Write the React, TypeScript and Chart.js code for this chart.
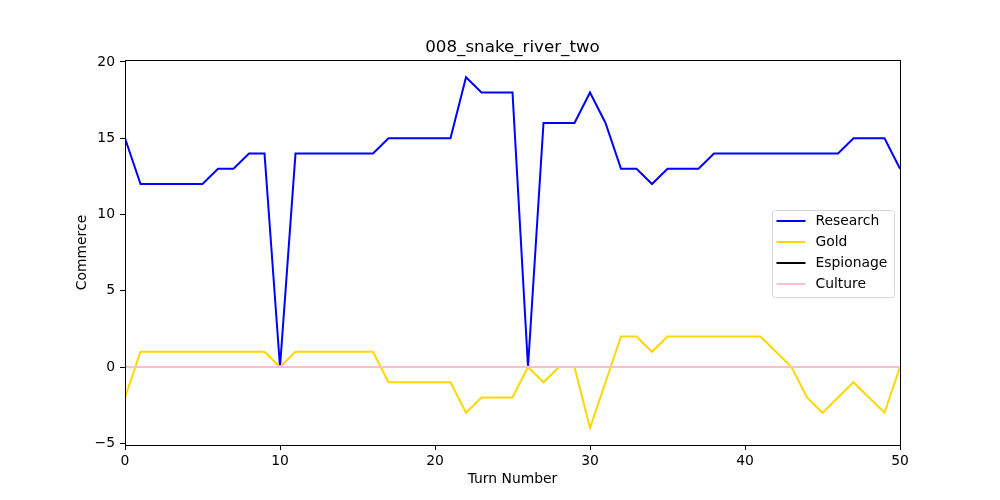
import React, { useEffect, useRef } from "react";
import { Chart, registerables } from "chart.js";

Chart.register(...registerables);

const chartTitle = "008_snake_river_two";
const xLabel = "Turn Number";
const yLabel = "Commerce";

const turns = [
  0, 1, 2, 3, 4, 5, 6, 7, 8, 9, 10, 11, 12, 13, 14, 15, 16, 17, 18, 19, 20,
  21, 22, 23, 24, 25, 26, 27, 28, 29, 30, 31, 32, 33, 34, 35, 36, 37, 38, 39,
  40, 41, 42, 43, 44, 45, 46, 47, 48, 49, 50,
];

const research = [
  15, 12, 12, 12, 12, 12, 13, 13, 14, 14, 0, 14, 14, 14, 14, 14, 14, 15, 15, 15,
  15, 15, 19, 18, 18, 18, 0, 16, 16, 16, 18, 16, 13, 13, 12, 13, 13, 13, 14, 14,
  14, 14, 14, 14, 14, 14, 14, 15, 15, 15, 13,
];

const gold = [
  -2, 1, 1, 1, 1, 1, 1, 1, 1, 1, 0, 1, 1, 1, 1, 1, 1, -1, -1, -1, -1, -1, -3,
  -2, -2, -2, 0, -1, 0, 0, -4, -1, 2, 2, 1, 2, 2, 2, 2, 2, 2, 2, 1, 0, -2, -3,
  -2, -1, -2, -3, 0,
];

const espionage = [
  0, 0, 0, 0, 0, 0, 0, 0, 0, 0, 0, 0, 0, 0, 0, 0, 0, 0, 0, 0, 0, 0, 0, 0, 0, 0,
  0, 0, 0, 0, 0, 0, 0, 0, 0, 0, 0, 0, 0, 0, 0, 0, 0, 0, 0, 0, 0, 0, 0, 0, 0,
];

const culture = [
  0, 0, 0, 0, 0, 0, 0, 0, 0, 0, 0, 0, 0, 0, 0, 0, 0, 0, 0, 0, 0, 0, 0, 0, 0, 0,
  0, 0, 0, 0, 0, 0, 0, 0, 0, 0, 0, 0, 0, 0, 0, 0, 0, 0, 0, 0, 0, 0, 0, 0, 0,
];

const seriesNames = ["Research", "Gold", "Espionage", "Culture"];
const seriesValues = [research, gold, espionage, culture];
const seriesColors = ["#0000ff", "#ffd700", "#000000", "#ffc0cb"];

const xTicks = [0, 10, 20, 30, 40, 50];
const yTicks = [-5, 0, 5, 10, 15, 20];

const FONT = "'DejaVu Sans', 'Liberation Sans', sans-serif";

const fmt = (v: any) => String(v).replace("-", "\u2212");

const titlePlugin = {
  id: "mplTitle",
  afterDraw(chart: any) {
    const { ctx, chartArea: a } = chart;
    ctx.save();
    ctx.font = `16.7px ${FONT}`;
    ctx.fillStyle = "#000";
    ctx.textAlign = "center";
    ctx.textBaseline = "alphabetic";
    ctx.fillText(chartTitle, (a.left + a.right) / 2, a.top - 8);
    ctx.restore();
  },
};

const framePlugin = {
  id: "mplFrame",
  afterDatasetsDraw(chart: any) {
    const { ctx, chartArea: a } = chart;
    ctx.save();
    ctx.strokeStyle = "#000";
    ctx.lineWidth = 1;
    ctx.strokeRect(
      Math.round(a.left) + 0.5,
      Math.round(a.top) + 0.5,
      Math.round(a.right - a.left),
      Math.round(a.bottom - a.top)
    );
    ctx.restore();
  },
};

const legendPlugin = {
  id: "mplLegend",
  afterDraw(chart: any) {
    const { ctx, chartArea: a } = chart;
    const datasets = chart.data.datasets;
    const boxRight = a.right - 7;
    const boxLeft = boxRight - 121.5;
    const boxTop = a.top + 149.5;
    const rowH = 21;
    const boxH = 87;
    ctx.save();
    ctx.beginPath();
    const r = 3;
    const x0 = Math.round(boxLeft) + 0.5;
    const y0 = Math.round(boxTop) + 0.5;
    const w = Math.round(boxRight - boxLeft);
    const h = boxH;
    ctx.moveTo(x0 + r, y0);
    ctx.lineTo(x0 + w - r, y0);
    ctx.arcTo(x0 + w, y0, x0 + w, y0 + r, r);
    ctx.lineTo(x0 + w, y0 + h - r);
    ctx.arcTo(x0 + w, y0 + h, x0 + w - r, y0 + h, r);
    ctx.lineTo(x0 + r, y0 + h);
    ctx.arcTo(x0, y0 + h, x0, y0 + h - r, r);
    ctx.lineTo(x0, y0 + r);
    ctx.arcTo(x0, y0, x0 + r, y0, r);
    ctx.closePath();
    ctx.fillStyle = "rgba(255,255,255,0.8)";
    ctx.fill();
    ctx.strokeStyle = "#d6d6d6";
    ctx.lineWidth = 1;
    ctx.stroke();

    ctx.font = `13.9px ${FONT}`;
    ctx.textBaseline = "middle";
    ctx.textAlign = "left";
    datasets.forEach((ds: any, i: number) => {
      const y = Math.round(boxTop + 11 + i * rowH);
      ctx.beginPath();
      ctx.strokeStyle = ds.borderColor;
      ctx.lineWidth = 2;
      ctx.moveTo(boxLeft + 5, y);
      ctx.lineTo(boxLeft + 34, y);
      ctx.stroke();
      ctx.fillStyle = "#000";
      ctx.fillText(ds.label, boxLeft + 44, y);
    });
    ctx.restore();
  },
};

export default function App() {
  const canvasRef = useRef<HTMLCanvasElement | null>(null);

  useEffect(() => {
    document.body.style.margin = "0";
    const canvas = canvasRef.current;
    if (!canvas) return;

    const datasets = seriesNames.map((name, i) => ({
      label: name,
      data: turns.map((t, j) => ({ x: t, y: seriesValues[i][j] })),
      borderColor: seriesColors[i],
      backgroundColor: seriesColors[i],
      borderWidth: 2,
      pointRadius: 0,
      pointHoverRadius: 0,
      fill: false,
      tension: 0,
      order: seriesNames.length - i,
    }));

    const chart = new Chart(canvas, {
      type: "line",
      data: { datasets },
      options: {
        animation: false,
        responsive: false,
        maintainAspectRatio: false,
        devicePixelRatio: 1,
        layout: { padding: { left: 0, right: 100, top: 60, bottom: 0 } },
        plugins: {
          legend: { display: false },
          tooltip: { enabled: false },
          title: { display: false },
        },
        scales: {
          x: {
            type: "linear",
            min: 0,
            max: 50,
            afterFit(scale: any) {
              scale.height = 55;
            },
            afterBuildTicks(scale: any) {
              scale.ticks = xTicks.map((v) => ({ value: v }));
            },
            border: { display: false },
            grid: {
              drawOnChartArea: false,
              drawTicks: true,
              tickLength: 5,
              tickColor: "#000",
              tickWidth: 1,
            },
            ticks: {
              color: "#000",
              padding: 3,
              maxRotation: 0,
              font: { family: FONT, size: 13.9 },
              callback: (v: any) => fmt(v),
            },
            title: {
              display: true,
              text: xLabel,
              color: "#000",
              font: { family: FONT, size: 13.9 },
              padding: { top: 0, bottom: 12 },
            },
          },
          y: {
            type: "linear",
            min: -5.1142,
            max: 20.13,
            afterFit(scale: any) {
              scale.width = 125;
            },
            afterBuildTicks(scale: any) {
              scale.ticks = yTicks.map((v) => ({ value: v }));
            },
            border: { display: false },
            grid: {
              drawOnChartArea: false,
              drawTicks: true,
              tickLength: 5,
              tickColor: "#000",
              tickWidth: 1,
            },
            ticks: {
              color: "#000",
              padding: 5,
              font: { family: FONT, size: 13.9 },
              callback: (v: any) => fmt(v),
            },
            title: {
              display: true,
              text: yLabel,
              color: "#000",
              font: { family: FONT, size: 13.9 },
              padding: { top: 74, bottom: 0 },
            },
          },
        },
      },
      plugins: [framePlugin, legendPlugin, titlePlugin],
    });

    return () => {
      chart.destroy();
    };
  }, []);

  return (
    <div style={{ width: 1000, height: 500, background: "#fff" }}>
      <canvas ref={canvasRef} width={1000} height={500} />
    </div>
  );
}
